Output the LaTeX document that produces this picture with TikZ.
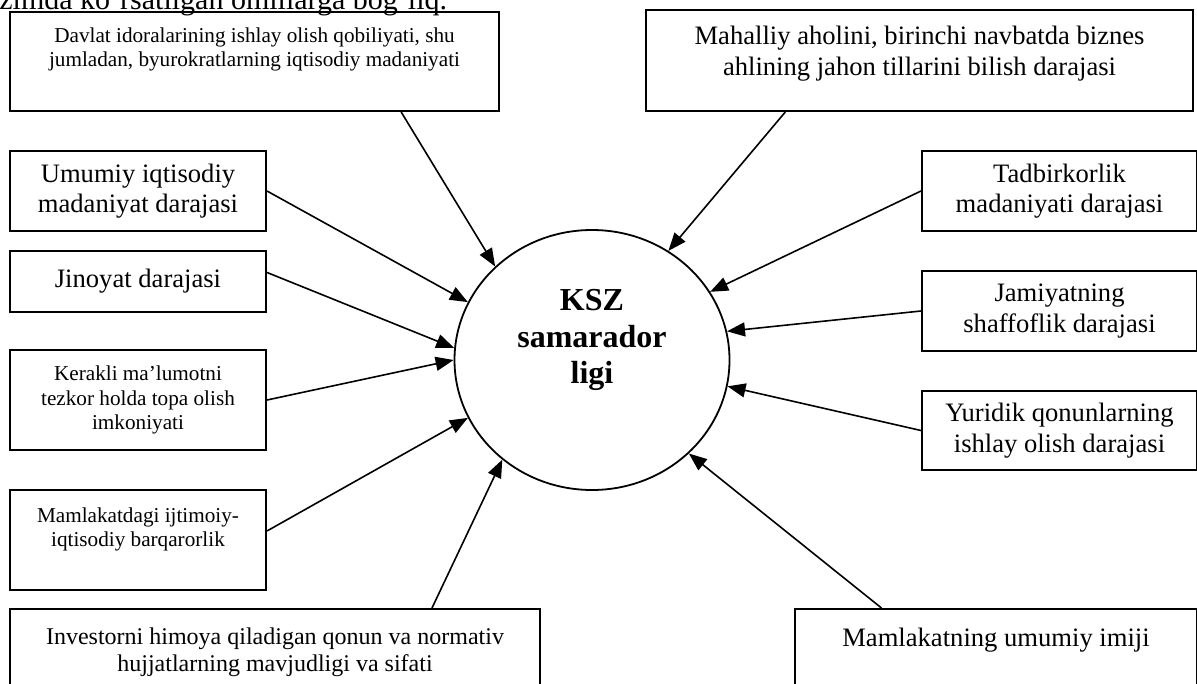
\documentclass[tikz,border=0pt]{standalone}
\usepackage{fontspec}
\setmainfont{Liberation Serif}
\usetikzlibrary{arrows.meta,shapes.geometric}
\begin{document}
\begin{tikzpicture}[x=0.5pt,y=-0.5pt,
  fbox/.style={draw,line width=1pt,inner sep=0pt,anchor=north west},
  big/.style={font=\fontsize{13.3pt}{15.3pt}\selectfont,align=center},
  mid/.style={font=\fontsize{12pt}{13.8pt}\selectfont,align=center},
  small/.style={font=\fontsize{10.6pt}{12.2pt}\selectfont,align=center},
  toptext/.style={anchor=north,inner sep=0pt},
  feed/.style={-{Triangle[length=9pt,width=7pt]},line width=0.8pt}]
\useasboundingbox (0,0) rectangle (1197,684);
\clip (0,0) rectangle (1197,684);
\fill[white] (0,0) rectangle (1197,684);
\node[anchor=base west,inner sep=0pt,font=\fontsize{15pt}{17pt}\selectfont] (heading) at (-1,10) {zimda ko‘rsatilgan omillarga bog‘liq.};
\node[draw,ellipse,line width=0.9pt,inner sep=0pt,minimum width=137.5pt,minimum height=130pt] (ksz) at (592,360) {};
\node[align=center,inner sep=0pt,font=\fontsize{16pt}{18.4pt}\selectfont\bfseries] (kszText) at ([yshift=10pt]ksz.center) {KSZ\\samarador\\ligi};
\node[fbox,minimum width=244.5pt,minimum height=49.5pt] (davlat) at (9,11) {};
\node[toptext,small] (davlatText) at ([yshift=-8pt]davlat.north) {Davlat idoralarining ishlay olish qobiliyati, shu\\jumladan, byurokratlarning iqtisodiy madaniyati};
\node[fbox,minimum width=273.5pt,minimum height=50.5pt] (mahalliy) at (645,9) {};
\node[toptext,big] (mahalliyText) at ([yshift=-8.5pt]mahalliy.north) {Mahalliy aholini, birinchi navbatda biznes\\ahlining jahon tillarini bilish darajasi};
\node[fbox,big,minimum width=128pt,minimum height=40pt] (umumiy) at (9,150) {Umumiy iqtisodiy\\madaniyat darajasi};
\node[fbox,big,minimum width=128pt,minimum height=30.5pt] (jinoyat) at (9,250) {Jinoyat darajasi};
\node[fbox,small,minimum width=128pt,minimum height=50pt] (kerakli) at (9,349) {Kerakli ma’lumotni\\tezkor holda topa olish\\imkoniyati};
\node[fbox,minimum width=128pt,minimum height=50pt] (barqaror) at (9,489) {};
\node[toptext,small] (barqarorText) at ([yshift=-9pt]barqaror.north) {Mamlakatdagi ijtimoiy-\\iqtisodiy barqarorlik};
\node[fbox,minimum width=265pt,minimum height=50pt] (investor) at (9,608) {};
\node[toptext,mid] (investorText) at ([yshift=-9.5pt]investor.north) {Investorni himoya qiladigan qonun va normativ\\hujjatlarning mavjudligi va sifati};
\node[fbox,big,minimum width=137.5pt,minimum height=40pt] (tadbir) at (921,150) {Tadbirkorlik\\madaniyati darajasi};
\node[fbox,big,minimum width=137.5pt,minimum height=40pt] (jamiyat) at (921,270) {Jamiyatning\\shaffoflik darajasi};
\node[fbox,big,minimum width=137.5pt,minimum height=39.5pt] (yuridik) at (921,390) {Yuridik qonunlarning\\ishlay olish darajasi};
\node[fbox,minimum width=201pt,minimum height=50pt] (imij) at (794,608) {};
\node[toptext,big] (imijText) at ([yshift=-10pt]imij.north) {Mamlakatning umumiy imiji};
\draw[feed] (davlat.-19.7)--(ksz.136.2);\draw[feed] (mahalliy.201.9)--(ksz.55.8);
\draw[feed] (umumiy.east)--(ksz.155.1);\draw[feed] (jinoyat.4.7)--(ksz.175.1);
\draw[feed] (kerakli.east)--(ksz.180.8);\draw[feed] (barqaror.4.5)--(ksz.205.8);
\draw[feed] (investor.18.9)--(ksz.228);\draw[feed] (imij.156.7)--(ksz.316.8);
\draw[feed] (tadbir.west)--(ksz.30.3);\draw[feed] (jamiyat.west)--(ksz.12.8);
\draw[feed] (yuridik.west)--(ksz.349.7);
\end{tikzpicture}
\end{document}
